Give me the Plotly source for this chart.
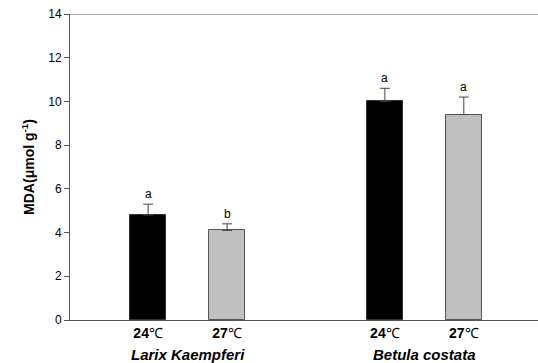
import plotly.graph_objects as go

species = ["Larix Kaempferi", "Betula costata"]
temps = ["24℃", "27℃"]
mda_24 = [4.8, 10.0]
mda_27 = [4.1, 9.4]
err_24 = [0.5, 0.6]
err_27 = [0.3, 0.8]
letters_24 = ["a", "a"]
letters_27 = ["b", "a"]
y_ticks = [0, 2, 4, 6, 8, 10, 12, 14]

gap = 3
pos_24 = [i * gap for i in range(len(species))]
pos_27 = [i * gap + 1 for i in range(len(species))]

def temp_label(t):
    return "<b>" + t.replace("℃", "</b>℃")

fig = go.Figure()
fig.add_trace(go.Bar(x=pos_24, y=mda_24, width=0.456,
                     marker=dict(color="#000000", line=dict(color="#333333", width=1)),
                     error_y=dict(type="data", array=err_24, symmetric=False, arrayminus=[0]*2,
                                  color="#444444", thickness=1, width=5),
                     showlegend=False))
fig.add_trace(go.Bar(x=pos_27, y=mda_27, width=0.456,
                     marker=dict(color="#c0c0c0", line=dict(color="#555555", width=1)),
                     error_y=dict(type="data", array=err_27, symmetric=False, arrayminus=[0]*2,
                                  color="#444444", thickness=1, width=5),
                     showlegend=False))

for xs, ys, es, ls in [(pos_24, mda_24, err_24, letters_24), (pos_27, mda_27, err_27, letters_27)]:
    for x, y, e, l in zip(xs, ys, es, ls):
        fig.add_annotation(x=x, y=y + e, text=l, showarrow=False, yanchor="bottom", yshift=1,
                           font=dict(family="Arial, Liberation Sans", size=12, color="#000"))

for i, s in enumerate(species):
    fig.add_annotation(x=i * gap + 0.5, y=0, yref="y", text="<b><i>" + s + "</i></b>", showarrow=False,
                       yanchor="top", yshift=-24,
                       font=dict(family="Arial, Liberation Sans", size=15, color="#000"))

fig.add_shape(type="line", xref="paper", x0=0, x1=1, yref="y", y0=14, y1=14,
              line=dict(color="#555555", width=1))

fig.update_layout(
    width=538, height=363,
    margin=dict(l=70, r=0, t=14, b=43),
    plot_bgcolor="white", paper_bgcolor="white",
    bargap=0,
    font=dict(family="Arial, Liberation Sans", color="#000"),
    xaxis=dict(range=[-0.99, 4.94], tickvals=pos_24 + pos_27,
               ticktext=[temp_label(temps[0])] * 2 + [temp_label(temps[1])] * 2,
               tickfont=dict(size=14, color="#000"), showgrid=False, zeroline=False,
               showline=True, linecolor="#555555", linewidth=1, ticks=""),
    yaxis=dict(range=[0, 14], tickvals=y_ticks, showgrid=False, zeroline=False,
               showline=True, linecolor="#555555", linewidth=1, ticks="outside", ticklen=5,
               tickcolor="#555555", tickfont=dict(size=12, color="#000"),
               title=dict(text="<b>MDA(μmol g<sup>-1</sup>)</b>", font=dict(size=14, color="#000"), standoff=10)),
)

fig.write_html("out.html", config={"displayModeBar": False},
               post_script="document.body.style.margin='0';document.body.style.overflow='hidden';")
